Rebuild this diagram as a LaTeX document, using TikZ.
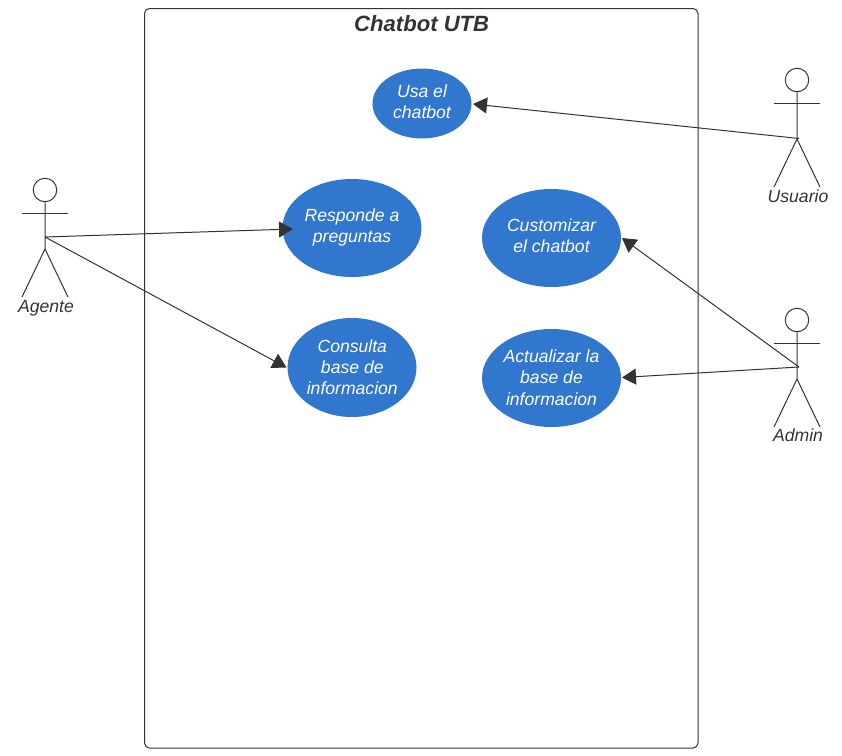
\documentclass[tikz,border=0pt]{standalone}
\usepackage{fontspec}
\setmainfont{Liberation Sans}
\usetikzlibrary{shapes.geometric,arrows.meta}
\definecolor{ink}{HTML}{333333}
\definecolor{ucblue}{HTML}{3277CE}
\tikzset{
  x=1pt,y=-1pt,
  usecase/.style={ellipse,fill=ucblue,inner sep=0pt},
  uctext/.style={text=white,inner sep=0pt,align=center,
    font=\fontsize{17.6}{21.4}\selectfont\itshape},
  actorline/.style={draw=ink,line width=1pt},
  actorlabel/.style={text=ink,inner sep=0pt,font=\fontsize{17.6}{21}\selectfont\itshape},
  link/.style={draw=ink,line width=1pt,-{Triangle[length=14pt,width=16pt]}},
}
\newcommand{\actor}[5]{% x, head y, name, label, label y offset
  \begin{scope}[shift={(#1,#2)}]
    \node[draw=ink,line width=1pt,fill=white,circle,minimum size=23.5pt,inner sep=0pt] (#3head) at (0,0) {};
    \draw[actorline] (#3head.south) -- (0,59) -- (-23,107);
    \draw[actorline] (0,59) -- (23,107);
    \draw[actorline] (-23,23) -- (23,23);
    \coordinate (#3) at (0,47);
    \node[actorlabel] (#3label) at (1,#5) {#4};
  \end{scope}}
\begin{document}
\begin{tikzpicture}
\useasboundingbox (0,0) rectangle (842,755);
\node[draw=ink,line width=1pt,rounded corners=5pt,minimum width=553.5pt,minimum height=739.5pt,inner sep=0pt] (system) at (421.25,378.25) {};
\node[text=ink,inner sep=0pt,font=\fontsize{22.1}{26}\selectfont\bfseries\itshape] (title) at (421.7,24) {Chatbot UTB};

\node[usecase,minimum width=99pt,minimum height=70pt] (usa) at (422,103.5) {};
\node[uctext] (usatext) at (422,102) {Usa el\\chatbot};
\node[usecase,minimum width=139pt,minimum height=98pt] (responde) at (352,228) {};
\node[uctext] (respondetext) at (352,227.4) {Responde a\\preguntas};
\node[usecase,minimum width=129pt,minimum height=99pt] (consulta) at (352,367.5) {};
\node[uctext] (consultatext) at (352.3,367.3) {Consulta\\base de\\informacion};
\node[usecase,minimum width=139pt,minimum height=98pt] (custom) at (551.5,238) {};
\node[uctext] (customtext) at (551.5,235.8) {Customizar\\el chatbot};
\node[usecase,minimum width=139pt,minimum height=98pt] (actual) at (551.5,378) {};
\node[uctext] (actualtext) at (551.5,377.7) {Actualizar la\\base de\\informacion};

\actor{45}{190}{agente}{Agente}{118}
\actor{797}{80}{usuario}{Usuario}{116}
\actor{797}{320}{admin}{Admin}{115}
\coordinate (usuariohip) at (799,138.5);
\coordinate (adminhip) at (799,367);

\coordinate (usatip) at (473,104);
\coordinate (restip) at (293,229);
\coordinate (contip) at (286.5,367.5);
\coordinate (custip) at (622,238);
\coordinate (acttip) at (622,377.5);
\draw[link] (agente) -- (restip);
\draw[link] (agente) -- (contip);
\draw[link] (usuariohip) -- (usatip);
\draw[link] (adminhip) -- (custip);
\draw[link] (adminhip) -- (acttip);
\end{tikzpicture}
\end{document}
